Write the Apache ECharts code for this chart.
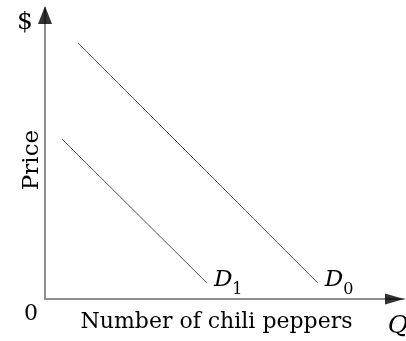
<!DOCTYPE html>
<html>
<head>
<meta charset="utf-8">
<script src="https://cdn.jsdelivr.net/npm/echarts@6/dist/echarts.min.js"></script>
<style>
html,body{margin:0;padding:0;background:#fff;}
#c{width:406px;height:341px;}
</style>
</head>
<body>
<div id="c"></div>
<script>
// Data (arbitrary units, axes 0..10)
const d0X = [0.92, 7.60];
const d0Y = [8.80, 0.55];
const d1X = [0.47, 4.51];
const d1Y = [5.50, 0.55];
const xName = 'Number of chili peppers';
const yName = 'Price';
const xEndLabel = 'Q';
const yEndLabel = '$';
const originLabel = '0';
const axisMax = 10;

const FONT = 'DejaVu Serif';
const pts = (xs, ys) => xs.map((x, i) => [x, ys[i]]);

const chart = echarts.init(document.getElementById('c'), null, {renderer: 'canvas'});
chart.setOption({
  animation: false,
  backgroundColor: '#fff',
  grid: {left: 45, right: 2, top: 8, bottom: 42, containLabel: false, outerBoundsMode: 'none'},
  xAxis: {
    type: 'value', min: 0, max: axisMax, interval: 1,
    splitLine: {show: false}, axisTick: {show: false},
    axisLine: {lineStyle: {color: '#8f8f8f', width: 2}},
    axisLabel: {
      show: true, margin: 4, align: 'center', verticalAlign: 'top',
      showMinLabel: true, showMaxLabel: true, hideOverlap: false,
      formatter: v => v === 0 ? '{z|' + originLabel + '}' : (v === axisMax ? '{q|' + xEndLabel + '}' : ''),
      rich: {
        z: {fontFamily: FONT, fontSize: 22, color: '#000', padding: [0, 28, 0, 0]},
        q: {fontFamily: FONT, fontSize: 25, fontStyle: 'italic', color: '#000', padding: [11, 12, 0, 0]}
      }
    },
    name: xName, nameLocation: 'middle', nameGap: 12, nameMoveOverlap: false,
    nameTextStyle: {fontFamily: FONT, fontSize: 22, color: '#000', verticalAlign: 'top', padding: [0, 16, 0, 0]}
  },
  yAxis: {
    type: 'value', min: 0, max: axisMax, interval: 1,
    splitLine: {show: false}, axisTick: {show: false},
    axisLine: {lineStyle: {color: '#8f8f8f', width: 2}},
    axisLabel: {
      show: true, margin: 12, verticalAlign: 'top', padding: [2, 0, 0, 0],
      showMinLabel: true, showMaxLabel: true, hideOverlap: false,
      formatter: v => v === axisMax ? yEndLabel : '',
      fontFamily: FONT, fontSize: 25, color: '#000'
    },
    name: yName, nameLocation: 'middle', nameGap: 13, nameMoveOverlap: false,
    nameTextStyle: {fontFamily: FONT, fontSize: 23, color: '#000', verticalAlign: 'middle', padding: [0, 13, 0, 0]}
  },
  series: [
    {
      type: 'line', data: pts(d0X, d0Y), symbol: 'none', silent: true,
      lineStyle: {color: '#555', width: 1},
      endLabel: {
        show: true, formatter: '{d|D}{s|0}', distance: 0, offset: [7, 0],
        rich: {
          d: {fontFamily: FONT, fontSize: 23, fontStyle: 'italic', color: '#000', verticalAlign: 'bottom', padding: [0, 0, 6, 0]},
          s: {fontFamily: FONT, fontSize: 16, color: '#000', verticalAlign: 'bottom'}
        }
      }
    },
    {
      type: 'line', data: pts(d1X, d1Y), symbol: 'none', silent: true,
      lineStyle: {color: '#555', width: 1},
      endLabel: {
        show: true, formatter: '{d|D}{s|1}', distance: 0, offset: [7, 0],
        rich: {
          d: {fontFamily: FONT, fontSize: 23, fontStyle: 'italic', color: '#000', verticalAlign: 'bottom', padding: [0, 0, 6, 0]},
          s: {fontFamily: FONT, fontSize: 16, color: '#000', verticalAlign: 'bottom'}
        }
      }
    },
    {
      type: 'scatter', silent: true, clip: false, z: 5,
      itemStyle: {color: '#000'},
      data: [
        {value: [axisMax, 0], symbol: 'triangle', symbolRotate: -90, symbolSize: [11, 19], symbolOffset: [-9.5, 0]},
        {value: [0, axisMax], symbol: 'triangle', symbolRotate: 0, symbolSize: [14, 18], symbolOffset: [0, 7]}
      ]
    }
  ]
});
</script>
</body>
</html>
